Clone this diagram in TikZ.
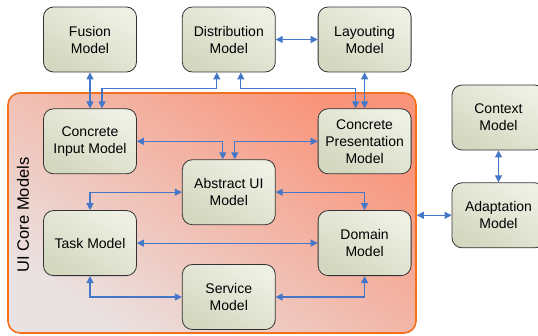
\documentclass[tikz,border=0pt]{standalone}
\usepackage{fontspec}
\setmainfont{Liberation Sans}
\usetikzlibrary{
  arrows.meta,
  positioning,  % Function "of" (e.g. [below=of x])
  calc,         % Calculations $...$
}
\definecolor{mylink}{RGB}{70,118,200}
\definecolor{myboxtop}{RGB}{238,240,228}
\definecolor{myboxbot}{RGB}{212,216,192}
\definecolor{mycoretop}{RGB}{249,148,122}
\definecolor{mycorebot}{RGB}{234,226,226}
\definecolor{mycoreline}{RGB}{242,112,30}
\def\myboxw{93pt}
\def\myboxh{65pt}
\def\myndist{36pt and 45pt}
\tikzset{
  font=\fontsize{14}{17}\selectfont,
  x=1pt,
  y=1pt,
  >={Triangle[length=7pt,width=7pt]},
  my model/.style={
    draw=black!80,
    line width=0.8pt,
    rounded corners=10pt,
    minimum width=\myboxw,
    minimum height=\myboxh,
    inner sep=1mm,
    align=center,
    top color=myboxtop,
    bottom color=myboxbot,
    shading angle=-30
  },
  my core/.style={
    draw=mycoreline,
    line width=1.6pt,
    rounded corners=12pt,
    minimum width=408pt,
    minimum height=240pt,
    top color=mycoretop,
    middle color=mycoretop!90!mycorebot,
    bottom color=mycorebot,
    shading angle=-35
  },
  link/.style={
    <->,
    draw=mylink,
    line width=1.2pt
  }
}

\begin{document}
\begin{tikzpicture}[node distance=\myndist]
\useasboundingbox (0,0) rectangle (538,335);
% core models frame
\node[my core] (core) at (212,122) {};
\node[rotate=90,font=\fontsize{16.5}{20}\selectfont] (corelbl) at (23,120) {UI Core Models};
% models
\node[my model] (fus)              at (90,295.5) {Fusion\\Model};
\node[my model] (dist) [right=of fus] {Distribution\\Model};
\node[my model] (lay)  [right=42pt of dist] {Layouting\\Model};
\node[my model] (cim)  [below=of fus]  {Concrete\\Input Model};
\node[my model] (cpm)  [below=of lay]  {Concrete\\Presentation\\Model};
\node[my model] (task) [below=of cim]  {Task Model};
\node[my model] (dom)  [below=of cpm]  {Domain\\Model};
\node[my model] (aui) at (dist |- {$(cim)!0.5!(task)$}) {Abstract UI\\Model};
\node[my model] (serv) [below=39pt of aui] {Service\\Model};
\node[my model] (ctx)              at (498.5,217.5) {Context\\Model};
\node[my model] (adp)  [below=32pt of ctx] {Adaptation\\Model};
% links
\draw[link] (fus) -- (cim);
\draw[link] (dist) -- (lay);
\draw[link] (lay) -- (cpm);
\draw[link] ($(cim.north)+(12,0)$) -- ++(0,20) -| ($(dist.south)+(-12,0)$);
\draw[link] ($(dist.south)+(12,0)$) -- ++(0,-16) -| ($(cpm.north)+(-9,0)$);
\draw[link] (cim.east) -| ($(aui.north)+(-6,0)$);
\draw[link] (cpm.west) -| ($(aui.north)+(6,0)$);
\draw[link] (aui.west) -| (task.north);
\draw[link] (aui.east) -| (dom.north);
\draw[link] (task) -- (dom);
\draw[link] (task.south) |- (serv.west);
\draw[link] (serv.east) -| (dom.south);
\draw[link] (ctx) -- (adp);
\draw[link] (adp.west -| core.east) -- (adp.west);
\end{tikzpicture}
\end{document}
